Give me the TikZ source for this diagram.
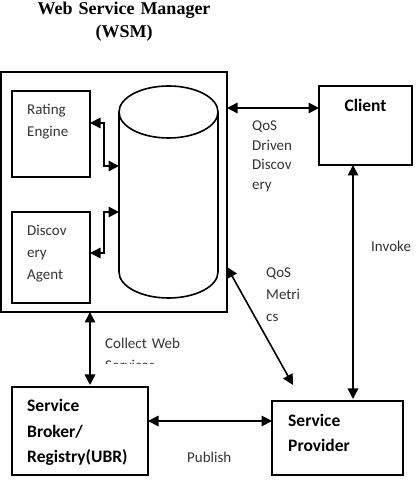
\documentclass[tikz,border=0pt]{standalone}
\usepackage{fontspec}
\setmainfont{Carlito}
\newfontfamily\titlefont{Liberation Serif}
\usetikzlibrary{arrows.meta, positioning}

\begin{document}
\begin{tikzpicture}[x=1pt, y=1pt,
  box/.style={draw, line width=1.6pt, inner sep=0pt, outer sep=0pt, anchor=north west},
  txt/.style={font=\fontsize{15}{22}\selectfont, text=black!80, align=left, inner sep=0pt, anchor=base west, text width=60pt},
  btxt/.style={font=\fontsize{17.5}{25.5}\selectfont\bfseries, align=left, inner sep=0pt, anchor=base west, text width=125pt},
  link/.style={{Triangle[length=10.5pt,width=10.5pt]}-{Triangle[length=10.5pt,width=10.5pt]}, line width=1.6pt}]
\useasboundingbox (0,0) rectangle (419,489);

% Title
\node[font=\titlefont\bfseries\fontsize{18}{23}\selectfont, align=center, text width=220pt, inner sep=0pt, anchor=base] (wsmtitle) at (124,474) {Web Service Manager\\(WSM)};

% Boxes
\node[box, minimum width=226pt, minimum height=240pt] (wsm) at (1,417) {};
\node[box, minimum width=78pt, minimum height=86pt] (rating) at (12,398) {};
\node[box, minimum width=78pt, minimum height=91pt] (disc) at (12,277) {};
\node[box, minimum width=93pt, minimum height=79pt] (client) at (319,403) {};
\node[box, minimum width=136pt, minimum height=88pt] (broker) at (12,102) {};
\node[box, minimum width=131pt, minimum height=74pt] (provider) at (272,88) {};

% Database cylinder
\node[minimum width=99pt, minimum height=212pt, inner sep=0pt, outer sep=0pt] (db) at (168.5,297) {};
\draw[line width=1.6pt] ([yshift=-26pt]db.north west) -- ([yshift=26pt]db.south west)
  arc[start angle=180, end angle=360, x radius=49.5pt, y radius=26pt] -- ([yshift=-26pt]db.north east);
\draw[line width=1.6pt] ([yshift=-26pt]db.north) ellipse[x radius=49.5pt, y radius=26pt];

% Box texts
\node[txt] (ratingtxt) at (27,374) {Rating\\Engine};
\node[txt] (disctxt) at (27,253) {Discov\\ery\\Agent};
\node[btxt, anchor=base, text width=80pt, align=center] (clienttxt) at (365.5,377) {Client};
\node[btxt] (brokertxt) at (27,77) {Service\\Broker/\\Registry(UBR)};
\node[btxt, font=\fontsize{17.5}{24.4}\selectfont\bfseries] (providertxt) at (288,62) {Service\\Provider};

% Connectors
\draw[link] ([yshift=11pt]rating.east) -- ++(14pt,0) |- ([yshift=26pt]db.west);
\draw[link] ([yshift=-20pt]db.west) -- ++(-15pt,0) |- ([yshift=4.5pt]disc.east);
\draw[link] ([yshift=17.5pt]client.west -| wsm.east) -- ([yshift=17.5pt]client.west);
\draw[link, shorten >=2pt] ([xshift=-12.5pt]client.south) -- ([xshift=-12.5pt]client.south |- provider.north);
\coordinate (metricend) at ([shift={(21pt,16pt)}]provider.north west);
\draw[link] ([yshift=-75pt]wsm.east) -- (metricend);
\draw[link, shorten >=2pt] ([xshift=-24pt]wsm.south) -- ([xshift=-24pt]wsm.south |- broker.north);
\draw[link] ([yshift=10pt]broker.east) -- ([yshift=10pt]broker.east -| provider.west);

% Connector labels
\node[txt, font=\fontsize{15}{19.5}\selectfont] (qosdisc) at (252,358) {QoS\\Driven\\Discov\\ery};
\node[txt] (invoke) at (371,237) {Invoke};
\node[txt] (qosmet) at (266,211) {QoS\\Metri\\cs};
\begin{scope}
\clip (100,125.5) rectangle (200,160);
\node[txt, text width=90pt] (collect) at (105,140) {Collect Web\\Services};
\end{scope}
\node[txt] (publish) at (187,26) {Publish};
\end{tikzpicture}
\end{document}
